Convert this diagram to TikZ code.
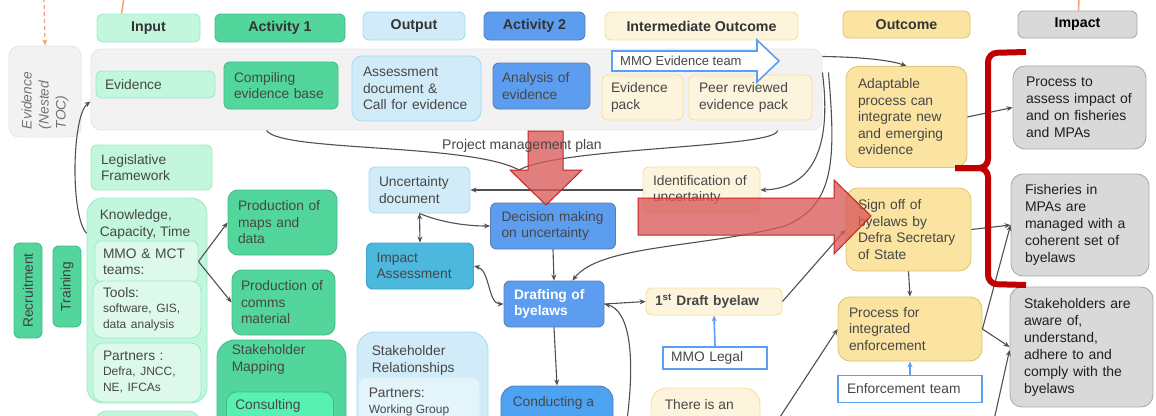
\documentclass[tikz,border=0pt]{standalone}
\usepackage{fontspec}
\setmainfont{Liberation Sans}
\usetikzlibrary{positioning,arrows.meta}

\definecolor{txtgray}{HTML}{474747}
\definecolor{lngray}{HTML}{505050}
\definecolor{lgreen}{HTML}{C2F6DD}
\definecolor{lgreenb}{HTML}{9DEDC7}
\definecolor{pgreen}{HTML}{DDF9EB}
\definecolor{mgreen}{HTML}{52D69B}
\definecolor{mgreenb}{HTML}{43BC85}
\definecolor{cgreen}{HTML}{57F1B1}
\definecolor{lblue}{HTML}{D1ECF8}
\definecolor{lblueb}{HTML}{A6DCF3}
\definecolor{pblue}{HTML}{E4F4FB}
\definecolor{tblue}{HTML}{4CB8DE}
\definecolor{tblueb}{HTML}{3FA5CC}
\definecolor{dblue}{HTML}{5C9DEF}
\definecolor{dblueb}{HTML}{5B7FB5}
\definecolor{cblue}{HTML}{4DA3F2}
\definecolor{lyell}{HTML}{FCF4DC}
\definecolor{lyellb}{HTML}{F8DF98}
\definecolor{yell}{HTML}{FBE3A1}
\definecolor{yellb}{HTML}{E1C476}
\definecolor{igray}{HTML}{D9D9D9}
\definecolor{igrayb}{HTML}{ABABAB}
\definecolor{bgray}{HTML}{F2F2F2}
\definecolor{bgrayb}{HTML}{E6E6E6}
\definecolor{olblue}{HTML}{5C9DF6}
\definecolor{bracered}{HTML}{C00000}
\definecolor{arrred}{HTML}{D85A5A}
\definecolor{arrredb}{HTML}{C62424}
\definecolor{tocorange}{HTML}{F5A27A}

\begin{document}
\begin{tikzpicture}[x=1pt, y=-1pt, >={Stealth[length=6pt,width=5pt]},
    font=\fontsize{13.8}{16.5}\selectfont,
    bx/.style={draw, rounded corners=6pt, inner sep=0pt, align=left, text=txtgray, line width=0.9pt},
    hdr/.style={bx, align=center, font=\fontsize{14.2}{16}\selectfont\bfseries, text=black!80},
    lg/.style={bx, fill=lgreen, draw=lgreenb},
    pg/.style={bx, fill=pgreen, draw=lgreenb},
    mg/.style={bx, fill=mgreen, draw=mgreenb},
    lb/.style={bx, fill=lblue, draw=lblueb},
    db/.style={bx, fill=dblue, draw=dblueb},
    ly/.style={bx, fill=lyell, draw=lyellb},
    yl/.style={bx, fill=yell, draw=yellb, rounded corners=12pt},
    gy/.style={bx, fill=igray, draw=igrayb, rounded corners=12pt, text=black!88, font=\fontsize{14}{17}\selectfont},
    ol/.style={bx, fill=white, draw=olblue, line width=1.6pt, rounded corners=0pt},
    lbl/.style={inner sep=0pt, align=left, text=txtgray},
    con/.style={->, draw=lngray, line width=1.1pt},
    bluecon/.style={->, draw=olblue, line width=1.6pt},
    bigarr/.style={fill=arrred, fill opacity=0.78, draw=arrredb, line width=1pt},
    brace/.style={draw=bracered, line width=6pt, rounded corners=9pt}]
  \useasboundingbox (0,0) rectangle (1156,415);
  \clip (0,0) rectangle (1156,415);

  % headers
  \node[hdr, fill=lgreen, draw=lgreenb, minimum width=103pt, minimum height=28pt] (hin) at (148.5,28) {Input};
  \node[hdr, fill=mgreen, draw=mgreenb, minimum width=130pt, minimum height=28pt] (hact1) at (280,28) {Activity 1};
  \node[hdr, fill=lblue, draw=lblueb, minimum width=102pt, minimum height=28pt] (hout) at (414,26) {Output};
  \node[hdr, fill=dblue, draw=dblueb, minimum width=101pt, minimum height=28pt] (hact2) at (534.5,26) {Activity 2};
  \node[hdr, fill=lyell, draw=lyellb, minimum width=193pt, minimum height=28pt] (hint) at (701.5,26) {Intermediate Outcome};
  \node[hdr, fill=yell, draw=yellb, minimum width=127pt, minimum height=27pt] (houtc) at (906.5,24.5) {Outcome};
  \node[hdr, fill=igray, draw=igrayb, minimum width=119pt, minimum height=27pt, text=black] (himp) at (1077.5,24.5) {Impact};

  % evidence band
  \node[bx, fill=bgray, draw=bgrayb, rounded corners=10pt, minimum width=731pt, minimum height=81pt] (band) at (456.5,89.5) {};
  \node[bx, fill=bgray, draw=bgrayb, rounded corners=10pt, rotate=90, minimum width=91pt, minimum height=72pt, text width=75pt,
    text=black!55, font=\fontsize{13.8}{17}\selectfont\itshape] (nest) at (45,91.5) {Evidence\\(Nested\\TOC)};
  \node[lg, minimum width=119pt, minimum height=27pt, text width=101pt] (evid) at (155.5,84.5) {Evidence};
  \node[mg, minimum width=114pt, minimum height=47pt, text width=94pt] (comp) at (281,85.5) {Compiling\\evidence base};
  \node[lb, rounded corners=10pt, minimum width=129pt, minimum height=65pt, text width=107pt] (assess) at (416.5,88.5) {Assessment\\document \&\\Call for evidence};
  \node[db, minimum width=97pt, minimum height=46pt, text width=79pt] (anal) at (541.5,86) {Analysis of\\evidence};
  \node[ly, minimum width=81pt, minimum height=45pt, text width=63pt] (evpack) at (642.5,97.5) {Evidence\\pack};
  \node[ly, minimum width=123pt, minimum height=45pt, text width=103pt] (peer) at (750.5,97.5) {Peer reviewed\\evidence pack};
  \draw[fill=white, draw=olblue, line width=1.6pt] (612,51) -- (757,51) -- (757,40) -- (779,61) -- (757,82) -- (757,71) -- (612,71) -- cycle;
  \node[lbl, anchor=west, font=\fontsize{13}{15}\selectfont] (mmoev) at (620,61) {MMO Evidence team};

  % input
  \node[lg, minimum width=121pt, minimum height=45pt, text width=101pt] (legis) at (151.5,167.5) {Legislative\\Framework};
  \node[lg, rounded corners=16pt, minimum width=120pt, minimum height=205pt] (kct) at (147,300.5) {};
  \node[lbl, below right=12pt and 13pt of kct.north west] (kcttxt) {Knowledge,\\Capacity, Time};
  \node[pg, minimum width=103pt, minimum height=41pt, text width=87pt] (mmomct) at (146.5,261.5) {MMO \& MCT\\teams:};
  \node[pg, rounded corners=10pt, minimum width=108pt, minimum height=57pt, text width=88pt] (tools) at (147,309.5)
    {Tools:\\\fontsize{12}{14.5}\selectfont software, GIS,\\data analysis};
  \node[pg, rounded corners=10pt, minimum width=108pt, minimum height=59pt, text width=88pt] (partn) at (147,372.5)
    {Partners :\\\fontsize{12}{14.5}\selectfont Defra, JNCC,\\NE, IFCAs};
  \node[lg, rounded corners=12pt, minimum width=105pt, minimum height=38pt] (kbelow) at (147.5,430) {};
  \node[mg, rotate=90, align=center, minimum width=95pt, minimum height=28pt, text=black!75] (recr) at (28,290.5) {Recruitment};
  \node[mg, rotate=90, align=center, minimum width=81pt, minimum height=28pt, text=black!75] (train) at (67,286.5) {Training};

  % activity 1
  \node[mg, rounded corners=10pt, minimum width=109pt, minimum height=65pt, text width=89pt] (maps) at (282.5,222.5) {Production of\\maps and\\data};
  \node[mg, rounded corners=10pt, minimum width=103pt, minimum height=65pt, text width=85pt] (comms) at (283.5,302.5) {Production of\\comms\\material};
  \node[mg, rounded corners=18pt, minimum width=129pt, minimum height=120pt] (stkmap) at (281.5,400) {};
  \node[lbl, below right=5pt and 15pt of stkmap.north west] (stkmaptxt) {Stakeholder\\Mapping};
  \node[bx, fill=cgreen, draw=mgreenb, rounded corners=10pt, minimum width=107pt, minimum height=56pt] (consult) at (280,420) {};
  \node[lbl, below right=8pt and 9pt of consult.north west] (consulttxt) {Consulting};

  % output
  \node[lb, minimum width=101pt, minimum height=46pt, text width=81pt] (uncdoc) at (419.5,190) {Uncertainty\\document};
  \node[bx, fill=tblue, draw=tblueb, minimum width=107pt, minimum height=46pt, text width=87pt] (impass) at (420,266) {Impact\\Assessment};
  \node[lb, rounded corners=18pt, minimum width=131pt, minimum height=128pt] (stkrel) at (422.5,396) {};
  \node[lbl, below right=14pt and 15pt of stkrel.north west] (stkreltxt) {Stakeholder\\Relationships};
  \node[bx, fill=pblue, draw=pblue, rounded corners=8pt, minimum width=120pt, minimum height=62pt] (partwg) at (419,409) {};
  \node[lbl, below right=10pt and 10pt of partwg.north west] (partwgtxt) {Partners:\\\fontsize{12}{14}\selectfont Working Group};

  % activity 2
  \node[db, minimum width=125pt, minimum height=46pt, text width=103pt] (decis) at (553,226) {Decision making\\on uncertainty};
  \node[db, minimum width=100pt, minimum height=46pt, text width=80pt, text=white, font=\fontsize{13.8}{16.5}\selectfont\bfseries] (draft) at (554,304) {Drafting of\\byelaws};
  \node[bx, fill=cblue, draw=dblueb, rounded corners=14pt, minimum width=112pt, minimum height=74pt] (conduct) at (557,423) {};
  \node[lbl, below right=11pt and 12pt of conduct.north west] (conducttxt) {Conducting a};

  % intermediate outcome
  \node[ly, minimum width=117pt, minimum height=46pt, text width=97pt] (ident) at (701.5,190) {Identification of\\uncertainty};
  \node[ly, minimum width=136pt, minimum height=27pt, text width=118pt] (draft1) at (714,301.5) {\textbf{1\textsuperscript{st} Draft byelaw}};
  \node[ol, minimum width=104pt, minimum height=22pt, text width=88pt] (mmolegal) at (715,358) {MMO Legal};
  \node[ly, rounded corners=16pt, minimum width=109pt, minimum height=72pt] (thereis) at (705.5,424) {};
  \node[lbl, below right=12pt and 14pt of thereis.north west] (thereistxt) {There is an};

  % outcome
  \node[yl, minimum width=121pt, minimum height=101pt, text width=97pt] (adapt) at (906.5,117) {Adaptable\\process can\\integrate new\\and emerging\\evidence};
  \node[yl, minimum width=125pt, minimum height=83pt, text width=101pt] (signoff) at (908.5,229.5) {Sign off of\\byelaws by\\Defra Secretary\\of State};
  \node[yl, minimum width=144pt, minimum height=64pt, text width=122pt] (procint) at (910,329) {Process for\\integrated\\enforcement};
  \node[ol, minimum width=144pt, minimum height=27pt, text width=126pt] (enfteam) at (910,389) {Enforcement team};

  % impact
  \node[gy, minimum width=133pt, minimum height=83pt, text width=107pt] (impA) at (1079.5,107.5) {Process to\\assess impact of\\and on fisheries\\and MPAs};
  \node[gy, minimum width=138pt, minimum height=102pt, text width=110pt] (impB) at (1080,225) {Fisheries in\\MPAs are\\managed with a\\coherent set of\\byelaws};
  \node[gy, minimum width=143pt, minimum height=120pt, text width=115pt] (impC) at (1081.5,347) {Stakeholders are\\aware of,\\understand,\\adhere to and\\comply with the\\byelaws};

  % connectors
  \coordinate (tocin) at (44,-2);
  \coordinate (inpin) at (124,-2);
  \coordinate (impin) at (1079,-2);
  \draw[tocorange, line width=1.3pt, dash pattern=on 4pt off 3pt, ->] (tocin) -- (nest.east);
  \draw[tocorange, line width=1.6pt] (inpin) -- ([xshift=-27pt]hin.north);
  \draw[tocorange, line width=1.6pt] (impin) -- ([xshift=1pt]himp.north);

  \draw[con] (kct.132) .. controls (70,215) and (72,115) .. ([yshift=-12pt]band.west);
  \coordinate (pmp) at (519,170);
  \draw[con,-] ([xshift=176pt]band.south west) .. controls (280,152) and (470,143) .. (pmp);
  \draw[con,-] ([xshift=-45pt]band.south east) .. controls (778,148) and (560,147) .. (pmp);
  \draw[con] (ident.west) -- (uncdoc.east);
  \draw[con,<->] (uncdoc.south) -- (impass.north);
  \draw[con] (uncdoc.south) .. controls (440,222) and (465,226) .. (decis.west);
  \draw[con] (decis.south) -- (draft.north);
  \draw[con,<->] (impass.east) .. controls (490,270) and (488,304) .. (draft.west);
  \draw[con] ([yshift=17pt]band.east) .. controls (827,110) and (832,188) .. (ident.east);
  \draw[con] ([xshift=6pt,yshift=17pt]band.east) .. controls (836,160) and (835,205) .. (785,226)
    .. controls (700,248) and (600,245) .. ([xshift=-32pt]draft.north east);
  \draw[con] ([yshift=33pt]band.east) .. controls (860,57) and (890,60) .. (adapt.north);
  \draw[con] (adapt.east) -- (impA.west);
  \draw[con] (signoff.east) -- (impB.west);
  \draw[con] (signoff.south) -- (procint.north);
  \draw[con] (procint.east) -- (impB.west);
  \draw[con] (procint.east) -- (impC.west);
  \coordinate (belowC) at (994,420);
  \draw[con] (belowC) -- ([yshift=-3pt]impC.west);
  \draw[con] (draft1.east) -- (signoff.west);
  \draw[con] (draft.east) -- (draft1.west);
  \coordinate (belowD) at (627,420);
  \draw[con] (belowD) .. controls (636,350) and (628,310) .. (draft.east);
  \draw[bluecon] (mmolegal.north) -- (draft1.south);
  \draw[bluecon] (enfteam.north) -- (procint.south);
  \draw[con] (draft.south) -- (conduct.north);
  \coordinate (belowE) at (778,420);
  \draw[con] (belowE) -- (procint.west);
  \draw[con] (mmomct.east) -- (maps.west);
  \draw[con] (mmomct.east) -- (comms.west);

  % big red arrows and brace
  \draw[bigarr] (528,131) -- (563,131) -- (563,170) -- (582,170) -- (546,205) -- (510,170) -- (528,170) -- cycle;
  \draw[bigarr] (638,198) -- (834,198) -- (834,180) -- (871,216) -- (834,254) -- (834,235) -- (638,235) -- cycle;
  \draw[brace] (1026,52) -- (988,53) -- (988,168) -- (955,168);
  \draw[brace] (955,168) -- (988,168) -- (988,284) -- (1026,285);

  \node[inner sep=0pt, text=txtgray, font=\fontsize{14}{16}\selectfont] (pmplbl) at (522,146) {Project management plan};
\end{tikzpicture}
\end{document}
